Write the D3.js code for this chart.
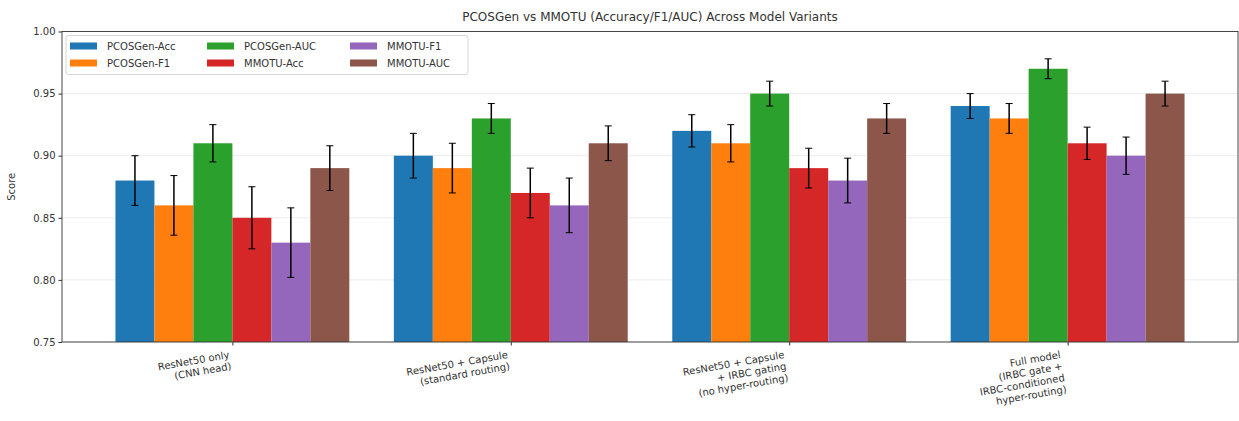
<!DOCTYPE html>
<html><head><meta charset="utf-8">
<script src="https://cdn.jsdelivr.net/npm/d3@7"></script>
<style>body{margin:0;background:#fff;}svg{display:block;font-family:"DejaVu Sans",sans-serif;}</style>
</head><body><svg id="c" width="1239" height="421"></svg>
<script>
const categories = [
  "ResNet50 only\n(CNN head)",
  "ResNet50 + Capsule\n(standard routing)",
  "ResNet50 + Capsule\n+ IRBC gating\n(no hyper-routing)",
  "Full model\n(IRBC gate +\nIRBC-conditioned\nhyper-routing)"
];
const seriesNames = ["PCOSGen-Acc","PCOSGen-F1","PCOSGen-AUC","MMOTU-Acc","MMOTU-F1","MMOTU-AUC"];
const pcosAcc = [0.88,0.90,0.92,0.94];
const pcosF1  = [0.86,0.89,0.91,0.93];
const pcosAUC = [0.91,0.93,0.95,0.97];
const mmAcc   = [0.85,0.87,0.89,0.91];
const mmF1    = [0.83,0.86,0.88,0.90];
const mmAUC   = [0.89,0.91,0.93,0.95];
const pcosAccErr = [0.020,0.018,0.013,0.010];
const pcosF1Err  = [0.024,0.020,0.015,0.012];
const pcosAUCErr = [0.015,0.012,0.010,0.008];
const mmAccErr   = [0.025,0.020,0.016,0.013];
const mmF1Err    = [0.028,0.022,0.018,0.015];
const mmAUCErr   = [0.018,0.014,0.012,0.010];
const yTicks = [0.75,0.80,0.85,0.90,0.95,1.00];
const colors = ["#1f77b4","#ff7f0e","#2ca02c","#d62728","#9467bd","#8c564b"];

const values = [pcosAcc,pcosF1,pcosAUC,mmAcc,mmF1,mmAUC];
const errs = [pcosAccErr,pcosF1Err,pcosAUCErr,mmAccErr,mmF1Err,mmAUCErr];

const L=62, R=1238, T=31.5, B=342;
const barW = 0.14;
const svg = d3.select("#c");
const x = d3.scaleLinear().domain([-0.612, 3.612]).range([L,R]);
const y = d3.scaleLinear().domain([0.75,1.00]).range([B,T]);

// grid
svg.append("g").selectAll("line").data(yTicks).join("line")
  .attr("x1",L).attr("x2",R).attr("y1",d=>y(d)).attr("y2",d=>y(d))
  .attr("stroke","#b0b0b0").attr("stroke-opacity",0.3).attr("stroke-width",0.8);

// bars
const gb = svg.append("g");
values.forEach((vals,j)=>{
  const off = (j-2.5)*barW;
  gb.append("g").selectAll("rect").data(vals).join("rect")
    .attr("x",(d,i)=>x(i+off-barW/2))
    .attr("width",(d,i)=>x(i+off+barW/2)-x(i+off-barW/2))
    .attr("y",d=>y(d)).attr("height",d=>B-y(d))
    .attr("fill",colors[j]);
});
// error bars
const ge = svg.append("g").attr("stroke","#000").attr("stroke-width",1.5);
values.forEach((vals,j)=>{
  const off = (j-2.5)*barW;
  vals.forEach((v,i)=>{
    const cx = x(i+off), e = errs[j][i];
    ge.append("line").attr("x1",cx).attr("x2",cx).attr("y1",y(v-e)).attr("y2",y(v+e));
    ge.append("line").attr("x1",cx-3.5).attr("x2",cx+3.5).attr("y1",y(v-e)).attr("y2",y(v-e)).attr("stroke-width",1);
    ge.append("line").attr("x1",cx-3.5).attr("x2",cx+3.5).attr("y1",y(v+e)).attr("y2",y(v+e)).attr("stroke-width",1);
  });
});

// y axis
const yAxis = d3.axisLeft(y).tickValues(yTicks).tickFormat(d3.format(".2f")).tickSizeOuter(0).tickSize(3.5).tickPadding(3);
const ya = svg.append("g").attr("transform",`translate(${L},0)`).call(yAxis);
ya.select(".domain").remove();
ya.selectAll("text").attr("font-size",10).attr("fill","#333").attr("font-family","DejaVu Sans");
ya.selectAll("line").attr("stroke","#333");

// x axis ticks
const xa = svg.append("g").attr("transform",`translate(0,${B})`)
  .call(d3.axisBottom(x).tickValues([0,1,2,3]).tickSize(3.5).tickFormat(""));
xa.select(".domain").remove();
xa.selectAll("line").attr("stroke","#333");

// frame
svg.append("rect").attr("x",L).attr("y",T).attr("width",R-L).attr("height",B-T)
  .attr("fill","none").attr("stroke","#333").attr("stroke-width",0.9);

// x labels
categories.forEach((c,i)=>{
  const g = svg.append("g");
  const inner = g.append("g").attr("transform","rotate(-10)");
  const t = inner.append("text").attr("text-anchor","end").attr("font-size",10).attr("fill","#333");
  c.split("\n").forEach((ln,k)=>{
    t.append("tspan").attr("x",0).attr("dy",k===0?0:"1.17em").text(ln);
  });
  const bb = g.node().getBBox();
  const tx = x(i) - (bb.x+bb.width);
  const ty = B + 7 - bb.y;
  g.attr("transform",`translate(${tx},${ty})`);
});

// y label
svg.append("text").attr("transform",`translate(15,${(T+B)/2}) rotate(-90)`)
  .attr("text-anchor","middle").attr("font-size",10).attr("fill","#333").text("Score");

// title
svg.append("text").attr("x",(L+R)/2).attr("y",21).attr("text-anchor","middle")
  .attr("font-size",12).attr("fill","#333").text("PCOSGen vs MMOTU (Accuracy/F1/AUC) Across Model Variants");

// legend
const lg = svg.append("g");
lg.append("rect").attr("x",66).attr("y",35.5).attr("width",402).attr("height",39).attr("rx",2.5)
  .attr("fill","#fff").attr("fill-opacity",0.8).attr("stroke","#ccc").attr("stroke-width",0.8);
const colX = [70, 207, 350];
seriesNames.forEach((n,j)=>{
  const col = Math.floor(j/2), row = j%2;
  const gx = colX[col], gy = 46 + row*17;
  lg.append("rect").attr("x",gx).attr("y",gy-3.5).attr("width",27).attr("height",7).attr("fill",colors[j]);
  lg.append("text").attr("x",gx+37).attr("y",gy+3.5).attr("font-size",10).attr("fill","#333").text(n);
});
</script></body></html>
